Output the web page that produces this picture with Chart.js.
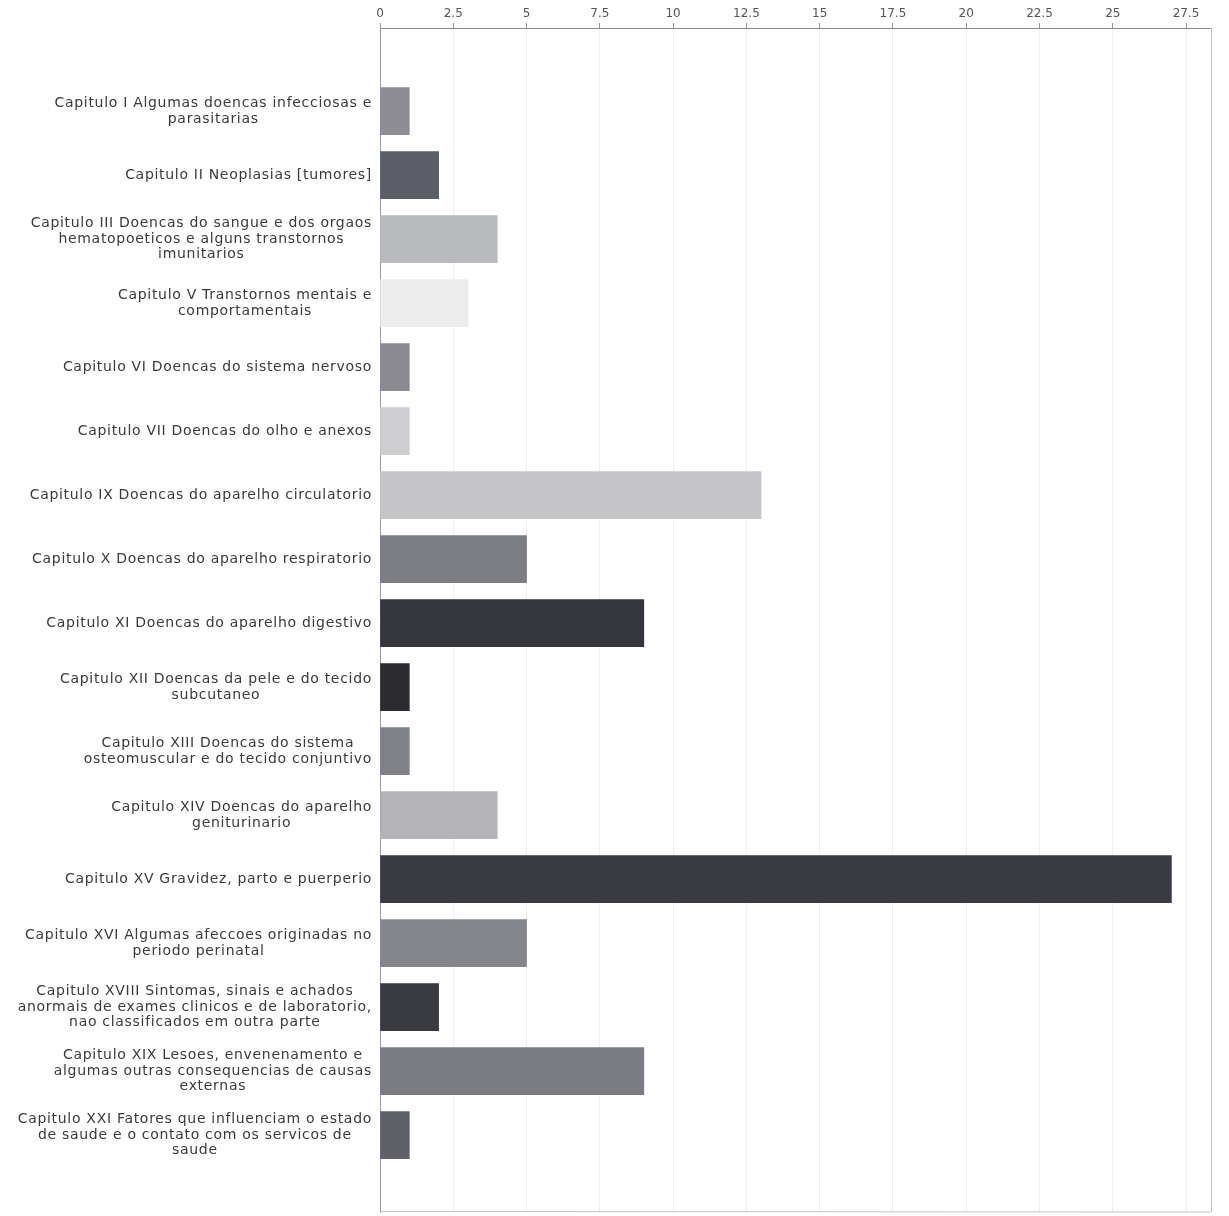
<!DOCTYPE html>
<html>
<head>
<meta charset="utf-8">
<script src="https://cdn.jsdelivr.net/npm/chart.js@4.4.1/dist/chart.umd.min.js"></script>
<style>
  html, body { margin: 0; padding: 0; background: #fff; }
  #wrap { width: 1229px; height: 1216px; position: relative; }
</style>
</head>
<body>
<div id="wrap"><canvas id="chart"></canvas></div>
<script>
const chapters = [
  ['Capitulo I Algumas doencas infecciosas e', 'parasitarias'],
  ['Capitulo II Neoplasias [tumores]'],
  ['Capitulo III Doencas do sangue e dos orgaos', 'hematopoeticos e alguns transtornos', 'imunitarios'],
  ['Capitulo V Transtornos mentais e', 'comportamentais'],
  ['Capitulo VI Doencas do sistema nervoso'],
  ['Capitulo VII Doencas do olho e anexos'],
  ['Capitulo IX Doencas do aparelho circulatorio'],
  ['Capitulo X Doencas do aparelho respiratorio'],
  ['Capitulo XI Doencas do aparelho digestivo'],
  ['Capitulo XII Doencas da pele e do tecido', 'subcutaneo'],
  ['Capitulo XIII Doencas do sistema', 'osteomuscular e do tecido conjuntivo'],
  ['Capitulo XIV Doencas do aparelho', 'geniturinario'],
  ['Capitulo XV Gravidez, parto e puerperio'],
  ['Capitulo XVI Algumas afeccoes originadas no', 'periodo perinatal'],
  ['Capitulo XVIII Sintomas, sinais e achados', 'anormais de exames clinicos e de laboratorio,', 'nao classificados em outra parte'],
  ['Capitulo XIX Lesoes, envenenamento e', 'algumas outras consequencias de causas', 'externas'],
  ['Capitulo XXI Fatores que influenciam o estado', 'de saude e o contato com os servicos de', 'saude']
];

const counts = [1, 2, 4, 3, 1, 1, 13, 5, 9, 1, 1, 4, 27, 5, 2, 9, 1];

const barColors = [
  '#8d8d93', '#5b5e66', '#b9babd', '#ececec', '#8a8a90', '#cfcfd2',
  '#c6c6c9', '#7d7d84', '#35353c', '#2b2b30', '#808087', '#b4b4b8',
  '#3a3a42', '#85858c', '#3a3b41', '#7c7c83', '#5f6068'
];

// draws the wrapped chapter names, each block centred on its longest line
const chapterLabels = {
  id: 'chapterLabels',
  afterDraw(chart) {
    const { ctx, chartArea } = chart;
    const yScale = chart.scales.y;
    const lineH = 15.5;
    ctx.save();
    ctx.font = '14px "DejaVu Sans"';
    if ('letterSpacing' in ctx) ctx.letterSpacing = '0.7px';
    ctx.fillStyle = '#3a3a3a';
    ctx.textAlign = 'center';
    ctx.textBaseline = 'middle';
    chapters.forEach((lines, i) => {
      const yc = yScale.getPixelForValue(i);
      const w = Math.max(...lines.map(l => ctx.measureText(l).width));
      const cx = chartArea.left - 8 - w / 2;
      const y0 = yc - (lines.length - 1) * lineH / 2;
      lines.forEach((l, k) => ctx.fillText(l, cx, y0 + k * lineH));
    });
    // frame around the plot
    ctx.strokeStyle = '#c4c4c4';
    ctx.lineWidth = 1;
    ctx.beginPath();
    ctx.moveTo(chartArea.right + 0.5, chartArea.top);
    ctx.lineTo(chartArea.right + 0.5, chartArea.bottom);
    ctx.lineTo(chartArea.left, chartArea.bottom - 0.5);
    ctx.stroke();
    ctx.restore();
  }
};

new Chart(document.getElementById('chart').getContext('2d'), {
  type: 'bar',
  data: {
    datasets: [{
      data: counts.map((v, i) => ({ x: v, y: i })),
      backgroundColor: barColors,
      borderWidth: 0,
      barThickness: 47
    }]
  },
  options: {
    indexAxis: 'y',
    responsive: true,
    maintainAspectRatio: false,
    animation: false,
    layout: { padding: { top: 3, right: 18, bottom: 4, left: 0 } },
    plugins: {
      legend: { display: false },
      tooltip: { enabled: false }
    },
    scales: {
      x: {
        type: 'linear',
        position: 'top',
        min: 0,
        max: 28.35,
        afterFit(scale) { scale.height = 25; },
        ticks: {
          stepSize: 2.5,
          includeBounds: false,
          color: '#555',
          padding: 2,
          font: { family: 'DejaVu Sans', size: 12 }
        },
        grid: {
          color: '#eeeeee',
          tickColor: '#999',
          tickLength: 5
        },
        border: { color: '#888', width: 1 }
      },
      y: {
        type: 'linear',
        reverse: true,
        offset: false,
        min: -1.3,
        max: 17.2,
        afterFit(scale) { scale.width = 380; },
        ticks: { display: false },
        grid: { display: false, offset: false },
        border: { color: '#999', width: 1 }
      }
    }
  },
  plugins: [chapterLabels]
});
</script>
</body>
</html>
